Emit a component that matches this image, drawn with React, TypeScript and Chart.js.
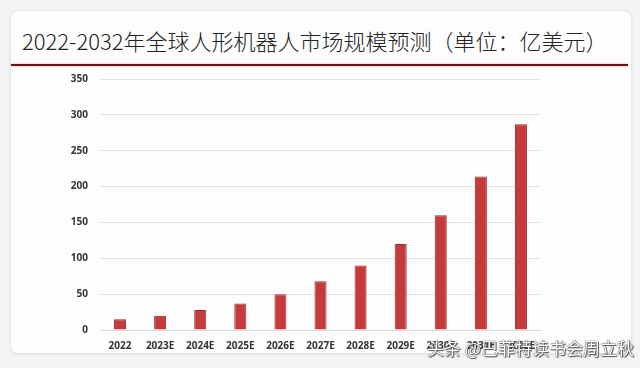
import React, { useEffect, useRef } from "react";
import { Chart, registerables } from "chart.js";

Chart.register(...registerables);

const categories = ["2022", "2023E", "2024E", "2025E", "2026E", "2027E", "2028E", "2029E", "2030E", "2031E", "2032E"];
const marketSize = [15, 20, 28, 37, 50, 68, 90, 120, 160, 214, 287];
const yTicks = [0, 50, 100, 150, 200, 250, 300, 350];
const title = "2022-2032年全球人形机器人市场规模预测（单位：亿美元）";
const watermark = "头条 @巴菲特读书会周立秋";

export default function App() {
  const ref = useRef<HTMLCanvasElement | null>(null);

  useEffect(() => {
    if (!ref.current) return;
    const chart = new Chart(ref.current, {
      type: "bar",
      data: {
        labels: categories,
        datasets: [
          {
            data: marketSize,
            backgroundColor: "#c53b3b",
            borderColor: "#a82c2c",
            borderWidth: 1,
            barPercentage: 0.6,
            categoryPercentage: 0.5,
          },
        ],
      },
      options: {
        animation: false,
        responsive: false,
        maintainAspectRatio: false,
        layout: { padding: { top: 79, right: 99, bottom: 0, left: 0 } },
        plugins: { legend: { display: false }, tooltip: { enabled: false } },
        scales: {
          x: {
            grid: { display: false, drawTicks: false },
            border: { display: true, color: "#d8dbe0" },
            ticks: {
              color: "#333",
              padding: 10,
              font: { family: "Open Sans", size: 10, weight: "bold" },
              maxRotation: 0,
              autoSkip: false,
            },
            afterFit: (s: any) => {
              s.height = 38;
            },
          },
          y: {
            min: 0,
            max: 350,
            afterBuildTicks: (s: any) => {
              s.ticks = yTicks.map((v) => ({ value: v }));
            },
            grid: { color: "#e3e5e9", drawTicks: false },
            border: { display: false },
            ticks: {
              color: "#333",
              padding: 12,
              font: { family: "Open Sans", size: 10, weight: "bold" },
            },
            afterFit: (s: any) => {
              s.width = 100;
            },
          },
        },
      },
    });
    return () => chart.destroy();
  }, []);

  return (
    <div
      style={{
        position: "fixed",
        left: 0,
        top: 0,
        width: 640,
        height: 368,
        background: "#f3f4f6",
        overflow: "hidden",
      }}
    >
      <div
        style={{
          position: "absolute",
          left: 10,
          top: 10,
          width: 620,
          height: 342,
          background: "#fdfdfe",
          border: "1px solid #e6e8ec",
          borderRadius: 8,
          boxShadow: "0 1px 3px rgba(0,0,0,0.06)",
        }}
      />
      <div
        style={{
          position: "absolute",
          left: 22,
          top: 25,
          fontFamily: "'Noto Sans CJK SC', sans-serif",
          fontSize: 22,
          fontWeight: 300,
          color: "#222",
          whiteSpace: "nowrap",
          letterSpacing: 0,
          lineHeight: "30px",
        }}
      >
        {title}
      </div>
      <div
        style={{
          position: "absolute",
          left: 11,
          top: 64,
          width: 617,
          height: 2,
          background: "#6e1212",
          boxShadow: "0 0 2px #f08a8a",
        }}
      />
      <canvas ref={ref} width={640} height={368} style={{ position: "absolute", left: 0, top: 0 }} />
      <div
        style={{
          position: "absolute",
          left: 427,
          top: 336,
          fontFamily: "'Noto Sans CJK SC', sans-serif",
          fontSize: 17,
          color: "#ffffff",
          whiteSpace: "nowrap",
          lineHeight: "24px",
          textShadow: "0 0 1px #333, 0 0 1px #333, 1px 1px 1px #555",
        }}
      >
        {watermark}
      </div>
    </div>
  );
}
